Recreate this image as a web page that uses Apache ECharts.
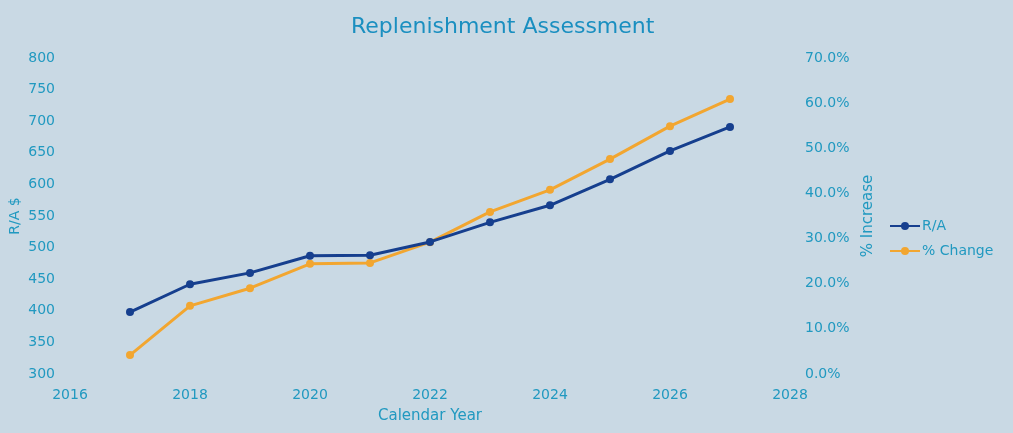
<!DOCTYPE html>
<html><head><meta charset="utf-8">
<script src="https://cdn.jsdelivr.net/npm/echarts@6/dist/echarts.min.js"></script>
<style>html,body{margin:0;padding:0;background:#c9d9e4;}#c{width:1013px;height:433px;}</style>
</head><body><div id="c"></div>
<script>
const years = [2017,2018,2019,2020,2021,2022,2023,2024,2025,2026,2027];
const raValues = [398,442,460,487,488,509,540,567,608,653,691];
const pctChange = [4.2,15.1,19.0,24.4,24.6,29.2,35.9,40.8,47.6,54.9,60.9];
const seriesNames = ['R/A','% Change'];
const txt = '#2199c0';
const ff = 'DejaVu Sans';
const chart = echarts.init(document.getElementById('c'));
chart.setOption({
  backgroundColor:'#c9d9e4',
  animation:false,
  title:{text:'Replenishment Assessment',left:346,top:11,textStyle:{color:'#1a8fc0',fontSize:22,fontWeight:'normal',fontFamily:ff}},
  legend:{orient:'vertical',left:884,top:214,itemGap:11,itemWidth:30,itemHeight:10,
    textStyle:{color:txt,fontSize:14,fontFamily:ff,padding:[0,0,0,-3]},data:seriesNames},
  grid:{left:70,right:223,top:58,bottom:59,outerBoundsMode:'none'},
  xAxis:{type:'value',min:2016,max:2028,interval:2,
    name:'Calendar Year',nameLocation:'middle',nameGap:35,
    nameTextStyle:{color:txt,fontSize:15,fontFamily:ff},
    axisLine:{show:false},axisTick:{show:false},splitLine:{show:false},
    axisLabel:{color:txt,fontSize:14,margin:14,fontFamily:ff,formatter:v=>String(v)}},
  yAxis:[
    {type:'value',min:300,max:800,interval:50,name:'R/A $',nameLocation:'middle',nameGap:48,nameRotate:90,nameMoveOverlap:false,
      nameTextStyle:{color:txt,fontSize:14,fontFamily:ff},
      axisLine:{show:false},axisTick:{show:false},splitLine:{show:false},
      axisLabel:{color:txt,fontSize:14,margin:15,fontFamily:ff}},
    {type:'value',min:0,max:70,interval:10,position:'right',name:'% Increase',nameLocation:'middle',nameGap:70,nameRotate:90,
      nameTextStyle:{color:txt,fontSize:15,fontFamily:ff,padding:[0,0,12,0]},
      axisLine:{show:false},axisTick:{show:false},splitLine:{show:false},
      axisLabel:{color:txt,fontSize:14,margin:15,fontFamily:ff,formatter:v=>v.toFixed(1)+'%'}}
  ],
  series:[
    {name:seriesNames[0],type:'line',yAxisIndex:0,data:years.map((y,i)=>[y,raValues[i]]),
      symbol:'circle',symbolSize:8,lineStyle:{width:3,color:'#163f8e'},itemStyle:{color:'#163f8e'},z:3},
    {name:seriesNames[1],type:'line',yAxisIndex:1,data:years.map((y,i)=>[y,pctChange[i]]),
      symbol:'circle',symbolSize:8,lineStyle:{width:3,color:'#f2a630'},itemStyle:{color:'#f2a630'},z:2}
  ]
});
</script></body></html>
